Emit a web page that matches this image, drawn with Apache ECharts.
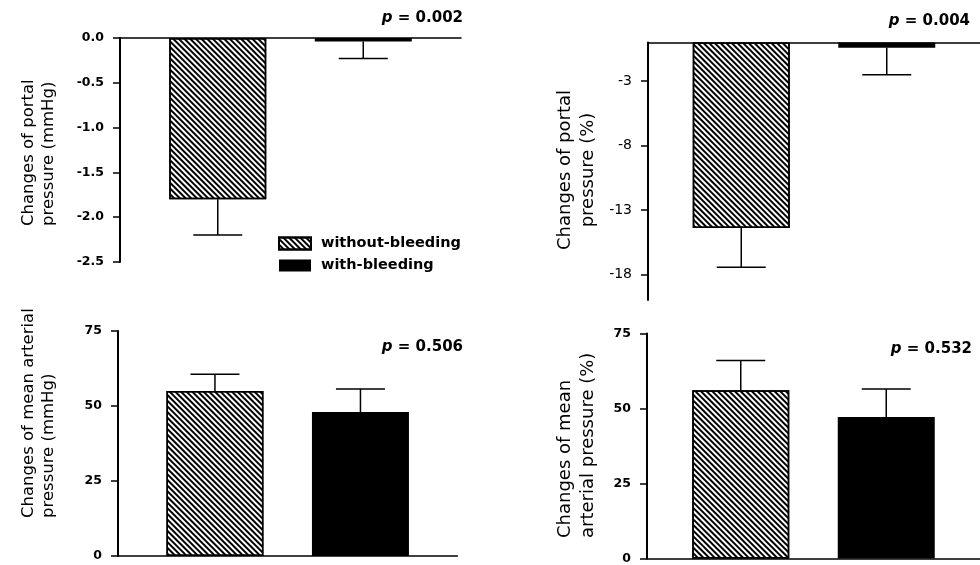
<!DOCTYPE html>
<html>
<head>
<meta charset="utf-8">
<script src="https://cdn.jsdelivr.net/npm/echarts@6/dist/echarts.min.js"></script>
<style>
  html, body { margin: 0; padding: 0; background: #fff; }
  #chart { width: 980px; height: 565px; }
</style>
</head>
<body>
<div id="chart"></div>
<script>
// groups (legend)
var groups = ['without-bleeding', 'with-bleeding'];

// portal pressure change, mmHg (mean, SE)
var portalMmHgMean = [-1.8, -0.04];
var portalMmHgErr = [0.4, 0.19];
// portal pressure change, %
var portalPctMean = [-14.4, -0.4];
var portalPctErr = [3.05, 2.1];
// mean arterial pressure change, mmHg
var mapMmHgMean = [55, 48];
var mapMmHgErr = [5.6, 7.7];
// mean arterial pressure change, %
var mapPctMean = [56.1, 47.2];
var mapPctErr = [9.9, 9.3];

var pValues = ['0.002', '0.004', '0.506', '0.532'];
var portalPctTicks = [-3, -8, -13, -18];

var FONT = 'DejaVu Sans';
var BAR_W = 97;
var CAP_W = 49;

var hatch = {
  color: '#fff',
  borderColor: '#000',
  borderWidth: 1.5,
  decal: {
    symbol: 'rect',
    symbolSize: 1,
    color: '#000',
    dashArrayX: [1, 0],
    dashArrayY: [1.4, 1.6],
    rotation: Math.PI / 4
  }
}

function xAxisFor(i, pos) {
  return {
    type: 'category',
    gridIndex: i,
    data: [''],
    position: pos,
    axisLine: { show: true, onZero: false, lineStyle: { color: '#000', width: 1.5 } },
    axisTick: { show: false },
    axisLabel: { show: false }
  }
}

function yAxisFor(i, extra) {
  var ax = {
    type: 'value',
    gridIndex: i,
    axisLine: { show: true, lineStyle: { color: '#000', width: 2 } },
    axisTick: { show: true, length: 7, lineStyle: { color: '#000', width: 1.5 } },
    axisLabel: { color: '#000', fontFamily: FONT, fontWeight: 'bold', fontSize: 12.5, margin: 16 },
    splitLine: { show: false }
  }
  for (var k in extra) {
    if (k === 'axisLabel' || k === 'axisTick') {
      Object.assign(ax[k], extra[k])
    } else {
      ax[k] = extra[k]
    }
  }
  return ax
}

function barsFor(i, means) {
  return [
    {
      name: groups[0], type: 'bar', xAxisIndex: i, yAxisIndex: i,
      data: [means[0]], barWidth: BAR_W, barGap: '50%', itemStyle: hatch, z: 3
    },
    {
      name: groups[1], type: 'bar', xAxisIndex: i, yAxisIndex: i,
      data: [means[1]], barWidth: BAR_W, barGap: '50%', itemStyle: { color: '#000' }, z: 3
    }
  ]
}

function errorsFor(i, means, errs) {
  var data = means.map(function (m, j) {
    var end = m < 0 ? m - errs[j] : m + errs[j]
    return [0, m, end, j]
  })
  return {
    type: 'custom',
    xAxisIndex: i,
    yAxisIndex: i,
    z: 2,
    silent: true,
    data: data,
    encode: { x: 0, y: [1, 2] },
    renderItem: function (params, api) {
      var j = api.value(3)
      var p0 = api.coord([api.value(0), api.value(1)])
      var p1 = api.coord([api.value(0), api.value(2)])
      var off = (j === 0 ? -1 : 1) * (BAR_W * 1.5) / 2
      var x = p0[0] + off
      var st = { stroke: '#000', lineWidth: 1.5 }
      return {
        type: 'group',
        children: [
          { type: 'line', shape: { x1: x, y1: p0[1], x2: x, y2: p1[1] }, style: st },
          { type: 'line', shape: { x1: x - CAP_W / 2, y1: p1[1], x2: x + CAP_W / 2, y2: p1[1] }, style: st }
        ]
      }
    }
  }
}

function pText(x, y, val) {
  return {
    type: 'text', x: x, y: y,
    style: {
      text: '{i|p} = ' + val,
      fill: '#000',
      font: 'bold 15px "DejaVu Sans"',
      align: 'right',
      verticalAlign: 'middle',
      rich: { i: { fontStyle: 'italic', fontWeight: 'bold', fontFamily: FONT, fontSize: 15 } }
    }
  }
}

function yName(x, y, txt, size, align, lh) {
  return {
    type: 'text', x: x, y: y, rotation: Math.PI / 2,
    style: {
      text: txt,
      fill: '#000',
      font: size + 'px "DejaVu Sans"',
      lineHeight: lh,
      align: align,
      verticalAlign: 'middle'
    }
  }
}

var chart = echarts.init(document.getElementById('chart'), null, { renderer: 'canvas' })

var option = {
  animation: false,
  backgroundColor: '#fff',
  grid: [
    { left: 120, top: 38, width: 341, height: 224 },
    { left: 648, top: 42.5, width: 337.4, height: 257.5 },
    { left: 118, top: 331, width: 339.4, height: 225 },
    { left: 647, top: 333.5, width: 339.4, height: 225 }
  ],
  legend: {
    data: groups,
    orient: 'vertical',
    left: 273,
    top: 231,
    itemWidth: 32,
    itemHeight: 12,
    itemGap: 7,
    icon: 'rect',
    selectedMode: false,
    textStyle: { color: '#000', fontFamily: FONT, fontWeight: 'bold', fontSize: 14.5, padding: [0, 0, 0, 5] }
  },
  xAxis: [
    xAxisFor(0, 'top'),
    xAxisFor(1, 'top'),
    xAxisFor(2, 'bottom'),
    xAxisFor(3, 'bottom')
  ],
  yAxis: [
    yAxisFor(0, {
      min: -2.5, max: 0, interval: 0.5,
      axisLabel: { formatter: function (v) { return v.toFixed(1) } }
    }),
    yAxisFor(1, {
      min: -20, max: 0,
      axisTick: { customValues: portalPctTicks },
      axisLabel: { customValues: portalPctTicks, fontWeight: 'normal', fontSize: 14 }
    }),
    yAxisFor(2, { min: 0, max: 75, interval: 25 }),
    yAxisFor(3, { min: 0, max: 75, interval: 25 })
  ],
  graphic: [
    pText(463, 18, pValues[0]),
    pText(970, 21, pValues[1]),
    pText(463, 347, pValues[2]),
    pText(972, 349, pValues[3]),
    yName(38.5, 226, 'Changes of portal\npressure (mmHg)', 16.5, 'left', 20),
    yName(576.5, 170, 'Changes of portal\npressure (%)', 18, 'center', 23),
    yName(38.5, 518, 'Changes of mean arterial\npressure (mmHg)', 16.5, 'left', 20),
    yName(576.5, 538, 'Changes of mean\narterial pressure (%)', 18, 'left', 23)
  ],
  series: [].concat(
    barsFor(0, portalMmHgMean),
    barsFor(1, portalPctMean),
    barsFor(2, mapMmHgMean),
    barsFor(3, mapPctMean),
    [
      errorsFor(0, portalMmHgMean, portalMmHgErr),
      errorsFor(1, portalPctMean, portalPctErr),
      errorsFor(2, mapMmHgMean, mapMmHgErr),
      errorsFor(3, mapPctMean, mapPctErr)
    ]
  )
}

chart.setOption(option)
</script>
</body>
</html>
